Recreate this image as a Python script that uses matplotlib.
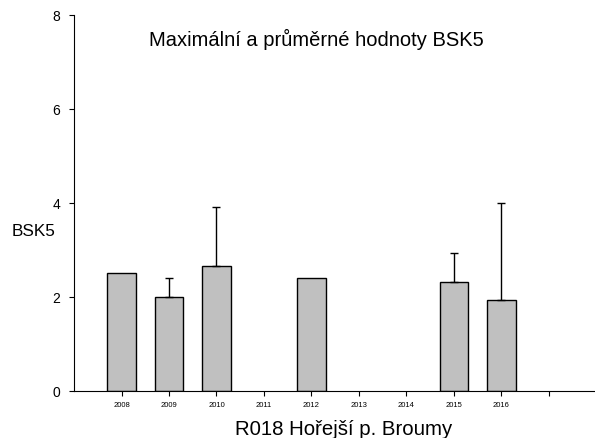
import numpy as np
import matplotlib
matplotlib.use('Agg')
import matplotlib.pyplot as plt

plt.rcParams['font.family'] = ['Liberation Sans', 'DejaVu Sans']

# data
years = ['2008', '2009', '2010', '2011', '2012', '2013', '2014', '2015', '2016', '']
mean_vals = [2.50, 2.00, 2.65, np.nan, 2.40, np.nan, np.nan, 2.31, 1.92, np.nan]
max_vals = [2.50, 2.40, 3.90, np.nan, 2.40, np.nan, np.nan, 2.94, 4.00, np.nan]

title = 'Maximální a průměrné hodnoty BSK5'
xlabel = 'R018 Hořejší p. Broumy'
ylabel = 'BSK5'

fig = plt.figure(figsize=(5.95, 4.39), dpi=100)
ax = fig.add_axes([0.1244, 0.1078, 0.878, 0.8564])

x = np.arange(len(years))
mean_arr = np.array(mean_vals)
max_arr = np.array(max_vals)
ok = ~np.isnan(mean_arr)

ax.bar(x[ok], mean_arr[ok], width=0.6, color='#c0c0c0', edgecolor='black', linewidth=1.0, zorder=2)

# upward error bars only, where max is above the mean
err = max_arr - mean_arr
has_err = ok & (err > 0.01)
lower = np.zeros(has_err.sum())
ax.errorbar(x[has_err], mean_arr[has_err], yerr=[lower, err[has_err]], fmt='none',
            ecolor='black', elinewidth=1.0, capsize=3, capthick=1.0, zorder=3)

ax.set_xlim(-1, 10)
ax.set_ylim(0, 8)
ax.set_xticks(x)
ax.set_xticklabels(years, fontsize=5.5)
ax.set_yticks([0, 2, 4, 6, 8])
ax.set_yticklabels(['0', '2', '4', '6', '8'], fontsize=10)
ax.tick_params(axis='x', direction='out', length=3.6, width=0.8, pad=4)
ax.tick_params(axis='y', direction='out', length=3.3, width=0.8, pad=6.5)

for side in ['top', 'right']:
    ax.spines[side].set_visible(False)
for side in ['left', 'bottom']:
    ax.spines[side].set_linewidth(0.8)

ax.text(0.463, 0.919, title, transform=ax.transAxes, ha='center', va='baseline', fontsize=14.5)
fig.text(343.4 / 595, 1 - 435 / 439, xlabel, ha='center', va='baseline', fontsize=14.7)
fig.text(11.5 / 595, 1 - 236 / 439, ylabel, ha='left', va='baseline', fontsize=12.3)

fig.savefig('out.png', dpi=100)
